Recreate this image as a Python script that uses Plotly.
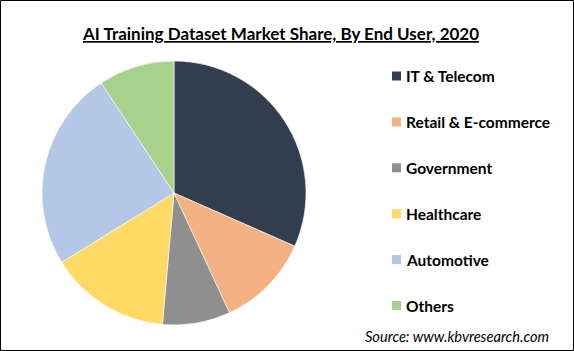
import plotly.graph_objects as go

W, H = 574, 351

labels = ["IT & Telecom", "Retail & E-commerce", "Government", "Healthcare", "Automotive", "Others"]
values = [31.6, 11.5, 8.3, 14.8, 24.5, 9.3]
colors = ["#333F50", "#F4B183", "#8F8F8F", "#FFD966", "#B4C7E7", "#A9D18E"]

title = "AI Training Dataset Market Share, By End User, 2020"
source = "Source: www.kbvresearch.com"

def px(x):
    return x / W

def py(y):
    return 1 - y / H

cx, cy, r = 174, 193, 132

fig = go.Figure(go.Pie(
    labels=labels, values=values, sort=False, direction="clockwise", rotation=0,
    marker=dict(colors=colors, line=dict(color="white", width=0.6)),
    textinfo="none", hoverinfo="label+percent", showlegend=False,
    domain=dict(x=[px(cx - r), px(cx + r)], y=[py(cy + r), py(cy - r)]),
))

annotations = [
    dict(text="<b><u>" + title + "</u></b>", x=px(280), y=py(33), xref="paper", yref="paper",
         xanchor="center", yanchor="middle", showarrow=False,
         font=dict(family="Lato", size=17, color="black")),
    dict(text="<i>" + source + "</i>", x=px(363), y=py(336), xref="paper", yref="paper",
         xanchor="left", yanchor="middle", showarrow=False,
         font=dict(family="Lato", size=14.6, color="black")),
]
shapes = [dict(type="rect", xref="paper", yref="paper", x0=px(0.5), x1=px(W - 0.5),
               y0=py(H - 0.5), y1=py(0.5), line=dict(color="black", width=1))]

leg_y0, leg_dy = 76, 45.9
for i, (lab, col) in enumerate(zip(labels, colors)):
    yc = leg_y0 + i * leg_dy
    shapes.append(dict(type="rect", xref="paper", yref="paper", x0=px(392), x1=px(401),
                       y0=py(yc + 4.5), y1=py(yc - 4.5), fillcolor=col, line=dict(width=0)))
    annotations.append(dict(text="<b>" + lab + "</b>", x=px(404), y=py(yc), xref="paper", yref="paper",
                            xanchor="left", yanchor="middle", showarrow=False,
                            font=dict(family="Lato", size=15.5, color="black")))

fig.update_layout(width=W, height=H, margin=dict(l=0, r=0, t=0, b=0),
                  paper_bgcolor="white", plot_bgcolor="white",
                  annotations=annotations, shapes=shapes)
fig.write_html("out.html")
